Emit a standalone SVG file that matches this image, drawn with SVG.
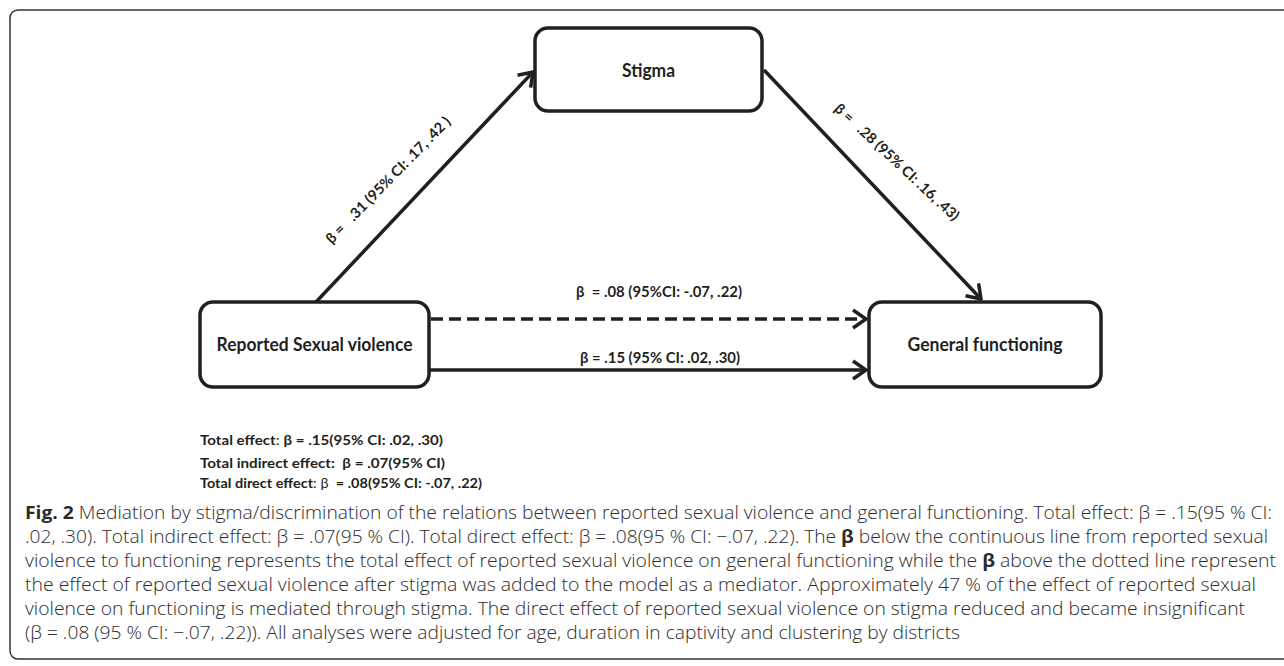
<svg xmlns="http://www.w3.org/2000/svg" width="1284" height="666" viewBox="0 0 1284 666">
<style>
.box{fill:#fff;stroke:#231f20;stroke-width:3.5}
.edge{fill:none;stroke:#231f20;stroke-width:3.5}
.lbl{font-family:Lato,"Liberation Sans",sans-serif;font-weight:bold;fill:#231f20;white-space:pre}
.node{font-size:18px;text-anchor:middle}
.el{font-size:14.5px}
.bl{font-size:14px}
.cap{font-family:"Open Sans","Liberation Sans",sans-serif;font-weight:300;font-size:17.5px;fill:#2b2b2b}
.b{font-weight:bold}
.n{font-weight:normal}
</style>
<defs>
<marker id="ah" viewBox="-17 -12 19 24" refX="0" refY="0" markerWidth="19" markerHeight="24" markerUnits="userSpaceOnUse" orient="auto">
<path d="M-13,-9 L0,0 L-13,9" fill="none" stroke="#231f20" stroke-width="3.5"/>
</marker>
</defs>
<rect x="10" y="10" width="1300" height="649" rx="8" fill="none" stroke="#333" stroke-width="1.5"/>
<g id="connectors">
<line class="edge" x1="316" y1="302" x2="533" y2="72" marker-end="url(#ah)"/>
<line class="edge" x1="764" y1="70" x2="981" y2="299" marker-end="url(#ah)"/>
<line class="edge" x1="431" y1="319" x2="866" y2="319" stroke-dasharray="12 6" marker-end="url(#ah)"/>
<line class="edge" x1="430" y1="370" x2="866" y2="370" marker-end="url(#ah)"/>
<text class="lbl el" transform="translate(388,180) rotate(-45.5)" text-anchor="middle" dy="5" textLength="171" lengthAdjust="spacingAndGlyphs">β =   .31 (95% CI: .17, .42 )</text>
<text class="lbl el" transform="translate(897,162) rotate(43)" text-anchor="middle" dy="5" textLength="164" lengthAdjust="spacingAndGlyphs">β =   .28 (95% CI: .16, .43)</text>
<text class="lbl el" x="576" y="297" textLength="166" lengthAdjust="spacingAndGlyphs">β  = .08 (95%CI: -.07, .22)</text>
<text class="lbl el" x="580" y="363" textLength="160" lengthAdjust="spacingAndGlyphs">β = .15 (95% CI: .02, .30)</text>
</g>
<g id="stigma">
<rect class="box" x="535" y="28" width="227" height="83" rx="13"/>
<text class="lbl node" x="648.5" y="77" textLength="53" lengthAdjust="spacingAndGlyphs">Stigma</text>
</g>
<g id="reported">
<rect class="box" x="200" y="302" width="229" height="85" rx="13"/>
<text class="lbl node" x="314.5" y="351" textLength="196" lengthAdjust="spacingAndGlyphs">Reported Sexual violence</text>
</g>
<g id="general">
<rect class="box" x="869" y="302" width="232" height="85" rx="13"/>
<text class="lbl node" x="985" y="351" textLength="155" lengthAdjust="spacingAndGlyphs">General functioning</text>
</g>
<g id="summary">
<text class="lbl bl" x="200" y="445" textLength="243" lengthAdjust="spacingAndGlyphs">Total effect<tspan class="n">: </tspan>β = .15(95% CI: .02, .30)</text>
<text class="lbl bl" x="200" y="468" textLength="245" lengthAdjust="spacingAndGlyphs">Total indirect effect:  β = .07(95% CI)</text>
<text class="lbl bl" x="200" y="488" textLength="282" lengthAdjust="spacingAndGlyphs">Total direct effect<tspan class="n">: β </tspan> = .08(95% CI: -.07, .22)</text>
</g>
<g id="caption">
<text class="cap" x="25" y="519" textLength="1247" lengthAdjust="spacingAndGlyphs"><tspan class="b">Fig. 2</tspan> Mediation by stigma/discrimination of the relations between reported sexual violence and general functioning. Total effect: β = .15(95 % CI:</text>
<text class="cap" x="25" y="543" textLength="1243" lengthAdjust="spacingAndGlyphs">.02, .30). Total indirect effect: β = .07(95 % CI). Total direct effect: β = .08(95 % CI: −.07, .22). The <tspan class="b">β</tspan> below the continuous line from reported sexual</text>
<text class="cap" x="25" y="567" textLength="1251" lengthAdjust="spacingAndGlyphs">violence to functioning represents the total effect of reported sexual violence on general functioning while the <tspan class="b">β</tspan> above the dotted line represent</text>
<text class="cap" x="25" y="591" textLength="1231" lengthAdjust="spacingAndGlyphs">the effect of reported sexual violence after stigma was added to the model as a mediator. Approximately 47 % of the effect of reported sexual</text>
<text class="cap" x="25" y="615" textLength="1220" lengthAdjust="spacingAndGlyphs">violence on functioning is mediated through stigma. The direct effect of reported sexual violence on stigma reduced and became insignificant</text>
<text class="cap" x="25" y="639" textLength="935" lengthAdjust="spacingAndGlyphs">(β = .08 (95 % CI: −.07, .22)). All analyses were adjusted for age, duration in captivity and clustering by districts</text>
</g>
</svg>
